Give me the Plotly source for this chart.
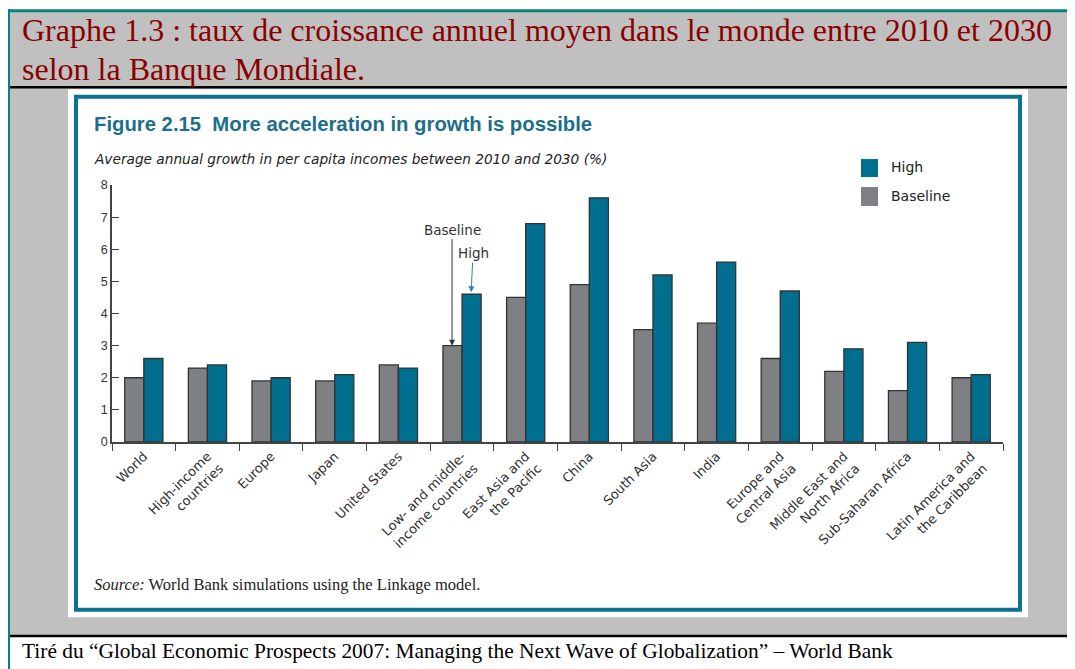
import plotly.graph_objects as go

categories = ["World", "High-income countries", "Europe", "Japan", "United States",
              "Low- and middle-income countries", "East Asia and the Pacific", "China",
              "South Asia", "India", "Europe and Central Asia", "Middle East and North Africa",
              "Sub-Saharan Africa", "Latin America and the Caribbean"]
tick_labels = ["World", "High-income<br>countries", "Europe", "Japan", "United States",
               "Low- and middle-<br>income countries", "East Asia and<br>the Pacific", "China",
               "South Asia", "India", "Europe and<br>Central Asia", "Middle East and<br>North Africa",
               "Sub-Saharan Africa", "Latin America and<br>the Caribbean"]
baseline = [2.0, 2.3, 1.9, 1.9, 2.4, 3.0, 4.5, 4.9, 3.5, 3.7, 2.6, 2.2, 1.6, 2.0]
high = [2.6, 2.4, 2.0, 2.1, 2.3, 4.6, 6.8, 7.6, 5.2, 5.6, 4.7, 2.9, 3.1, 2.1]
y_ticks = [0, 1, 2, 3, 4, 5, 6, 7, 8]

GRAY = "#7f8084"
TEAL = "#006f8f"
OFF = 8                      # page body margin
W, H = 1075 - OFF, 669 - OFF
PLOT_L, PLOT_R, PLOT_T, PLOT_B = 112, 1003, 185, 442.5   # window pixel coords
PW, PH = PLOT_R - PLOT_L, PLOT_B - PLOT_T


def px(x):
    return (x - PLOT_L) / PW


def py(y):
    return (PLOT_B - y) / PH


fig = go.Figure()
fig.add_trace(go.Bar(x=categories, y=baseline, name="Baseline",
                     marker=dict(color=GRAY, line=dict(color="#333333", width=1.3))))
fig.add_trace(go.Bar(x=categories, y=high, name="High",
                     marker=dict(color=TEAL, line=dict(color="#333333", width=1.3))))

shapes = [
    dict(type="rect", xref="paper", yref="paper", x0=px(9), x1=px(1080), y0=py(10), y1=py(637),
         fillcolor="#c0c0c0", line=dict(width=0), layer="below"),
    dict(type="line", xref="paper", yref="paper", x0=px(7), x1=px(1080), y0=py(10.5), y1=py(10.5),
         line=dict(color="#0a8080", width=3), layer="below"),
    dict(type="line", xref="paper", yref="paper", x0=px(9), x1=px(9), y0=py(9), y1=py(680),
         line=dict(color="#0a8080", width=2), layer="below"),
    dict(type="line", xref="paper", yref="paper", x0=px(10), x1=px(1080), y0=py(87), y1=py(87),
         line=dict(color="#000000", width=2.5), layer="below"),
    dict(type="line", xref="paper", yref="paper", x0=px(10), x1=px(1080), y0=py(637), y1=py(637),
         line=dict(color="#000000", width=2.5), layer="below"),
    dict(type="rect", xref="paper", yref="paper", x0=px(68), x1=px(1028), y0=py(89), y1=py(618),
         fillcolor="#ffffff", line=dict(width=0), layer="below"),
    dict(type="rect", xref="paper", yref="paper", x0=px(76), x1=px(1020), y0=py(96.5), y1=py(610.5),
         fillcolor="rgba(0,0,0,0)", line=dict(color="#0b7291", width=4), layer="below"),
    dict(type="rect", xref="paper", yref="paper", x0=px(861), x1=px(878), y0=py(159), y1=py(177),
         fillcolor=TEAL, line=dict(width=0), layer="below"),
    dict(type="rect", xref="paper", yref="paper", x0=px(861), x1=px(878), y0=py(187), y1=py(206),
         fillcolor=GRAY, line=dict(width=0), layer="below"),
]

SANS = "Liberation Sans, Arial, sans-serif"
WIDE = "DejaVu Sans, Verdana, sans-serif"
SERIF = "Liberation Serif, Times New Roman, serif"
TITLE_FONT = dict(family=SERIF, size=32, color="#8b0000")

annotations = [
    dict(xref="paper", yref="paper", x=px(20), y=py(30), xanchor="left", yanchor="middle",
         text="Graphe 1.3 : taux de croissance annuel moyen dans le monde entre 2010 et 2030",
         showarrow=False, font=TITLE_FONT),
    dict(xref="paper", yref="paper", x=px(20), y=py(68.5), xanchor="left", yanchor="middle",
         text="selon la Banque Mondiale.",
         showarrow=False, font=TITLE_FONT),
    dict(xref="paper", yref="paper", x=px(92), y=py(124), xanchor="left", yanchor="middle",
         text="<b>Figure 2.15  More acceleration in growth is possible</b>",
         showarrow=False, font=dict(family=SANS, size=20.3, color="#1b6f8c")),
    dict(xref="paper", yref="paper", x=px(92), y=py(159), xanchor="left", yanchor="middle",
         text="<i>Average annual growth in per capita incomes between 2010 and 2030 (%)</i>",
         showarrow=False, font=dict(family=WIDE, size=13.7, color="#222222")),
    dict(xref="paper", yref="paper", x=px(889), y=py(167), xanchor="left", yanchor="middle",
         text="High", showarrow=False, font=dict(family=WIDE, size=14, color="#222222")),
    dict(xref="paper", yref="paper", x=px(889), y=py(196), xanchor="left", yanchor="middle",
         text="Baseline", showarrow=False, font=dict(family=WIDE, size=14, color="#222222")),
    dict(xref="paper", yref="paper", x=px(92), y=py(585), xanchor="left", yanchor="middle",
         text="<i>Source:</i> World Bank simulations using the Linkage model.",
         showarrow=False, font=dict(family=SERIF, size=16.5, color="#222222")),
    dict(xref="paper", yref="paper", x=px(20), y=py(652), xanchor="left", yanchor="middle",
         text="Tiré du “Global Economic Prospects 2007: Managing the Next Wave of Globalization” – World Bank",
         showarrow=False, font=dict(family=SERIF, size=21.4, color="#000000")),
    dict(x=categories[5], y=baseline[5], xref="x", yref="y", xshift=-10,
         text="Baseline", showarrow=True, ax=0, ay=-116, arrowhead=2, arrowsize=1.2,
         arrowwidth=1, arrowcolor="#333333", font=dict(family=WIDE, size=13.5, color="#333333")),
    dict(x=categories[5], y=high[5], xref="x", yref="y", xshift=9, standoff=2,
         text="High", showarrow=True, ax=2, ay=-41, arrowhead=2, arrowsize=1.2,
         arrowwidth=1, arrowcolor="#2a86a8", font=dict(family=WIDE, size=13.5, color="#333333")),
]

fig.update_layout(
    width=W, height=H,
    margin=dict(l=PLOT_L - OFF, r=W - (PLOT_R - OFF), t=PLOT_T - OFF, b=H - (PLOT_B - OFF)),
    paper_bgcolor="#ffffff",
    plot_bgcolor="rgba(0,0,0,0)",
    barmode="group", bargap=0.4, bargroupgap=0,
    showlegend=False,
    shapes=shapes,
    annotations=annotations,
    font=dict(family=SANS, color="#333333"),
)
fig.update_xaxes(
    tickvals=categories, ticktext=tick_labels, tickangle=-45,
    tickson="boundaries", ticks="outside", ticklen=7, tickwidth=1.3, tickcolor="#444444",
    showline=True, linecolor="#444444", linewidth=1.5, showgrid=False,
    tickfont=dict(family=WIDE, size=13, color="#333333"),
)
fig.update_yaxes(
    range=[0, 8], tickvals=y_ticks, ticks="inside", ticklen=7, tickwidth=1.3, tickcolor="#444444",
    showline=True, linecolor="#444444", linewidth=1.5, showgrid=False, zeroline=False,
    tickfont=dict(family=SANS, size=12.5, color="#333333"),
)

fig.write_html("out.html")
